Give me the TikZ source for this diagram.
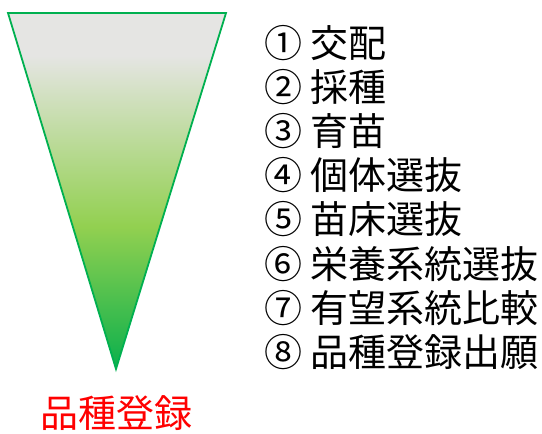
\documentclass[tikz,border=0pt]{standalone}
\usepackage{fontspec}
\setmainfont{Noto Sans CJK JP}
\definecolor{ggray}{RGB}{229,229,227}
\definecolor{glime}{RGB}{146,208,80}
\definecolor{ggreen}{RGB}{10,176,76}
\definecolor{gline}{RGB}{0,176,80}
\pgfdeclareverticalshading{funnel}{100bp}{color(0bp)=(ggreen); color(25bp)=(ggreen); color(45bp)=(glime); color(69bp)=(ggray); color(100bp)=(ggray)}
\tikzset{
  item/.style={anchor=base west, inner sep=0pt, font=\fontsize{38}{46}\selectfont, text=black},
  goal/.style={anchor=base, inner sep=0pt, font=\fontsize{38}{46}\selectfont, text=red}
}
\begin{document}
\begin{tikzpicture}[x=1pt,y=-1pt]
\useasboundingbox (0,0) rectangle (542,434);
\shade[shading=funnel, draw=gline, line width=1.8pt, line join=miter] (8,13) -- (226,13) -- (116,369) -- cycle;
\node[item] (s1) at (264,57) {① 交配};
\node[item] (s2) at (264,101.2) {② 採種};
\node[item] (s3) at (264,145.4) {③ 育苗};
\node[item] (s4) at (264,189.6) {④ 個体選抜};
\node[item] (s5) at (264,233.8) {⑤ 苗床選抜};
\node[item] (s6) at (264,278) {⑥ 栄養系統選抜};
\node[item] (s7) at (264,322.2) {⑦ 有望系統比較};
\node[item] (s8) at (264,366.4) {⑧ 品種登録出願};
\node[goal] (g) at (117,427) {品種登録};
\end{tikzpicture}
\end{document}
